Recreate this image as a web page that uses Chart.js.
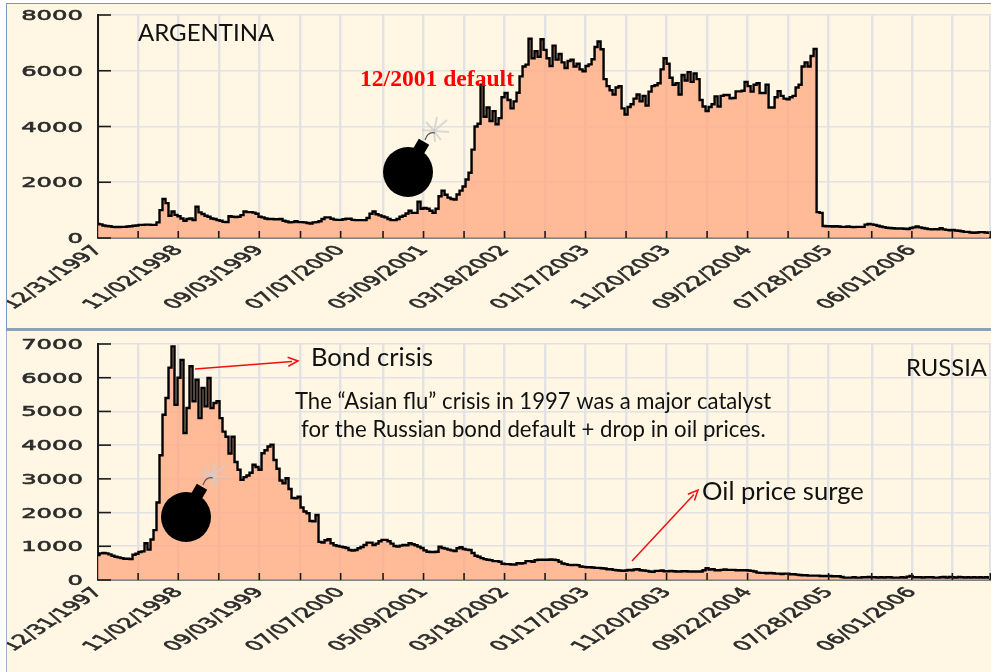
<!DOCTYPE html>
<html><head><meta charset="utf-8">
<script src="https://cdn.jsdelivr.net/npm/chart.js@4"></script>
<style>
html,body{margin:0;padding:0;background:#fff;width:991px;height:672px;overflow:hidden}
.panel{position:absolute;left:6px;right:0;background:#FFF7E3;overflow:hidden}
#p1{top:3px;height:324px;border-top:1px solid #7d98bb;border-left:1px solid #7d98bb;border-bottom:3px solid #8aa1b9;box-sizing:content-box}
#p2{top:331px;height:341px;border-left:1px solid #9fb3c8}
canvas{position:absolute;display:block}
</style></head><body>
<div class="panel" id="p1"><canvas id="c1" width="991" height="330" style="left:-7px;top:-4px"></canvas></div>
<div class="panel" id="p2"><canvas id="c2" width="991" height="342" style="left:-7px;top:-1px"></canvas></div>
<script>
const tickObs=[0,107,214,322,430,540,647,760,868,976,1084,1192,1300,1408,1516,1624,1732,1840,1948,2063,2170,2278,2379];
const tickLabels=['12/31/1997','','11/02/1998','','09/03/1999','','07/07/2000','','05/09/2001','','03/18/2002','','01/17/2003','','11/20/2003','','09/22/2004','','07/28/2005','','06/01/2006','',''];
const obsStep=8;
const argentina=[
500,490,450,430,420,400,395,395,400,400,
410,420,440,450,470,470,480,480,470,470,
560,1000,1400,1250,800,950,830,780,700,620,
680,700,640,1120,920,860,800,760,700,680,
640,620,580,570,780,760,750,760,820,950,
930,930,910,870,760,740,700,680,680,670,
670,680,620,590,560,570,600,570,570,560,
540,520,560,570,600,680,740,740,690,660,
650,650,670,690,690,650,640,640,640,640,
720,870,950,850,810,770,740,680,640,640,
680,760,800,880,980,900,900,1300,1050,1080,
1050,980,900,1050,1500,1700,1550,1450,1400,1380,
1560,1700,1850,2100,2340,3170,4000,4100,5500,4350,
4680,4200,4550,4080,4300,5050,5200,4950,4650,4900,
5210,5800,6150,6220,7150,6450,6700,6500,7130,6750,
6450,6170,6900,6400,6600,6300,6100,6350,6400,6150,
6250,6050,5980,6170,6230,6410,6850,7050,6770,5700,
5450,5300,5150,5400,5450,4650,4430,4700,4800,5000,
5150,4900,5100,4750,5250,5450,5480,5550,6050,6450,
6250,5750,5500,5550,5150,5850,5650,5950,5600,5900,
5700,4950,4720,4550,4700,4800,5080,4720,5100,5130,
5130,5010,5020,5260,5260,5280,5600,5450,5250,5500,
5550,5200,5200,5500,4680,4680,5050,5270,5100,5000,
4980,5050,5100,5400,5500,6150,6300,6150,6530,6780,
930,900,430,420,420,410,420,410,400,400,
410,400,390,400,400,400,480,500,490,470,
440,410,390,370,360,350,340,340,340,330,
320,360,380,410,380,360,340,320,310,320,
310,350,310,290,280,290,270,260,240,220,
220,200,190,200,210,210,200,190];
const russia=[
740,790,800,790,760,720,690,670,650,630,
630,620,750,780,830,850,1090,900,1200,1480,
2300,3700,4900,5400,6300,6930,5200,6000,6530,4360,
5100,6340,5300,5940,4800,5700,5150,5990,5100,5250,
5300,4800,4400,4250,3750,4250,3500,3270,2970,3050,
3100,3180,3420,3350,3270,3760,3850,3960,4010,3560,
3300,2950,2870,3020,2700,2430,2420,2470,2150,2030,
1980,1750,1740,1930,1130,1110,1180,1210,1090,1030,
1010,990,970,950,890,870,890,940,980,1040,
1110,1110,1040,1080,1150,1190,1190,1150,1080,1010,
990,1020,1040,1030,1090,1060,1030,990,950,880,
840,830,830,840,990,950,930,900,880,860,
940,970,920,900,890,800,720,690,650,620,
600,590,560,560,540,480,470,470,460,460,
500,490,500,560,560,540,590,600,600,600,
600,610,600,590,540,490,470,450,440,450,
440,400,390,380,380,370,360,360,350,340,
320,320,300,290,280,270,280,300,290,310,
320,290,280,270,250,240,270,270,280,260,
260,270,260,250,250,260,260,250,250,250,
250,250,290,350,310,320,290,290,300,310,
300,300,300,290,290,290,290,280,270,250,
220,210,210,200,210,200,190,190,180,190,
190,170,170,160,150,140,140,130,130,130,
130,120,120,120,120,110,110,110,90,70,
70,70,80,70,70,80,80,90,80,80,
70,80,70,80,80,70,70,70,80,70,
100,120,80,80,80,70,80,80,80,70,
70,80,90,70,90,80,70,90,80,70,
80,70,80,70,80,70,80,70];

const STRETCH=1.8, AXFONT='13.5px "DejaVu Sans"', AXCOL='#2c2c2c';
function bomb(ctx,cx,cy){
  ctx.save();
  ctx.filter='blur(0.7px)';
  ctx.strokeStyle='rgba(205,205,205,.75)';ctx.lineWidth=2;
  const sx=cx+26,sy=cy-41,rays=[[13,-11],[3,-14],[15,1],[-8,-9],[7,9],[-12,-1],[1,11]];
  for(const r of rays){ctx.beginPath();ctx.moveTo(sx,sy);ctx.lineTo(sx+r[0],sy+r[1]);ctx.stroke();}
  ctx.filter='none';
  ctx.fillStyle='#000';
  ctx.beginPath();ctx.arc(cx,cy,25,0,Math.PI*2);ctx.fill();
  ctx.save();ctx.translate(cx+13,cy-25);ctx.rotate(Math.PI/6);ctx.fillRect(-6,-6,12,11);ctx.restore();
  ctx.strokeStyle='#555';ctx.lineWidth=1.2;ctx.beginPath();ctx.moveTo(cx+17,cy-32);ctx.quadraticCurveTo(cx+20,cy-41,cx+27,cy-39);ctx.stroke();
  ctx.restore();
}
function arrow(ctx,x1,y1,x2,y2){
  const a=Math.atan2(y2-y1,x2-x1),h=11;
  ctx.save();ctx.strokeStyle='#f01010';ctx.fillStyle='#f01010';ctx.lineWidth=1.5;
  ctx.beginPath();ctx.moveTo(x1,y1);ctx.lineTo(x2-6*Math.cos(a),y2-6*Math.sin(a));ctx.stroke();
  ctx.beginPath();
  ctx.moveTo(x2-h*Math.cos(a-.42),y2-h*Math.sin(a-.42));ctx.lineTo(x2,y2);ctx.lineTo(x2-h*Math.cos(a+.42),y2-h*Math.sin(a+.42));
  ctx.stroke();
  ctx.restore();
}
function txt(ctx,s,x,y,font,col){ctx.save();ctx.font=font;ctx.fillStyle=col||'#111';ctx.textAlign='left';ctx.textBaseline='alphabetic';ctx.fillText(s,x,y);ctx.restore();}
function heavy(ctx,s){ctx.fillText(s,0,0);ctx.strokeText(s,0,0);}
function axisPlugin(extra){return {id:'axisDeco',afterDraw(chart){
  const ctx=chart.ctx,xs=chart.scales.x,ys=chart.scales.y,a=chart.chartArea;
  ctx.save();
  ctx.strokeStyle='#1c1c1c';ctx.lineWidth=1.6;
  xs.ticks.forEach((t,i)=>{if(i===0)return;const p=xs.getPixelForValue(t.value);ctx.beginPath();ctx.moveTo(p,a.bottom);ctx.lineTo(p,a.bottom-7);ctx.stroke();});
  ys.ticks.forEach(t=>{const p=ys.getPixelForValue(t.value);ctx.beginPath();ctx.moveTo(a.left,p);ctx.lineTo(a.left+13,p);ctx.stroke();});
  ctx.filter='blur(0.5px)';ctx.fillStyle=AXCOL;ctx.strokeStyle=AXCOL;ctx.lineWidth=0.55;ctx.font=AXFONT;
  ys.ticks.forEach(t=>{const p=ys.getPixelForValue(t.value);ctx.save();ctx.translate(83,p+1.5);ctx.transform(STRETCH,0,0,1,0,0);ctx.textAlign='right';ctx.textBaseline='middle';heavy(ctx,String(t.value));ctx.restore();});
  xs.ticks.forEach((t,i)=>{if(!tickLabels[i])return;const p=xs.getPixelForValue(t.value);ctx.save();ctx.translate(p+0.5,a.bottom+10);ctx.transform(STRETCH,0,0,1,0,0);ctx.rotate(-50*Math.PI/180);ctx.textAlign='right';ctx.textBaseline='middle';heavy(ctx,tickLabels[i]);ctx.restore();});
  ctx.restore();
  extra(ctx);
}};}
function make(id,values,yMax,yStep,pad,extra){
  return new Chart(document.getElementById(id),{
    type:'line',
    data:{datasets:[{data:values.map((v,i)=>({x:i*obsStep,y:v})),stepped:'middle',borderColor:'#000',borderWidth:2.4,pointRadius:0,fill:'origin',backgroundColor:'rgba(255,170,132,.8)'}]},
    options:{responsive:false,animation:false,devicePixelRatio:1,parsing:false,normalized:true,
      layout:{padding:pad},
      plugins:{legend:{display:false},title:{display:false},tooltip:{enabled:false}},
      scales:{
        x:{type:'linear',min:0,max:tickObs[tickObs.length-1]+2,
          afterBuildTicks:s=>{s.ticks=tickObs.map(v=>({value:v}));},
          ticks:{display:false,autoSkip:false},
          grid:{color:'#e2e2e4',lineWidth:2.4,drawTicks:false},
          border:{display:true,color:'#1c1c1c',width:1.6}},
        y:{type:'linear',min:0,max:yMax,
          ticks:{display:false,stepSize:yStep},
          grid:{color:'#e2e2e4',lineWidth:1.6,drawTicks:false},
          border:{display:true,color:'#1c1c1c',width:2}}
      }},
    plugins:[axisPlugin(extra)]
  });
}
make('c1',argentina,8000,2000,{left:98,top:15,right:0,bottom:92},ctx=>{
  bomb(ctx,408,172);
  txt(ctx,'ARGENTINA',138,41,'24px Lato','#111');
  txt(ctx,'12/2001 default',360,86,'bold 23.6px "Liberation Serif"','#ff0000');
});
make('c2',russia,7000,1000,{left:98,top:14,right:0,bottom:92},ctx=>{
  bomb(ctx,186,187);
  txt(ctx,'Bond crisis',311,36,'25.6px Lato','#111');
  txt(ctx,'RUSSIA',906,46,'23.8px Lato','#111');
  txt(ctx,'The \u201cAsian flu\u201d crisis in 1997 was a major catalyst',295,79,'22.1px Lato','#111');
  txt(ctx,'for the Russian bond default + drop in oil prices.',301,107,'22.2px Lato','#111');
  txt(ctx,'Oil price surge',702,170,'25.6px Lato','#111');
  arrow(ctx,195,39,298,31);
  arrow(ctx,632,231,698,160);
});
</script>
</body></html>
